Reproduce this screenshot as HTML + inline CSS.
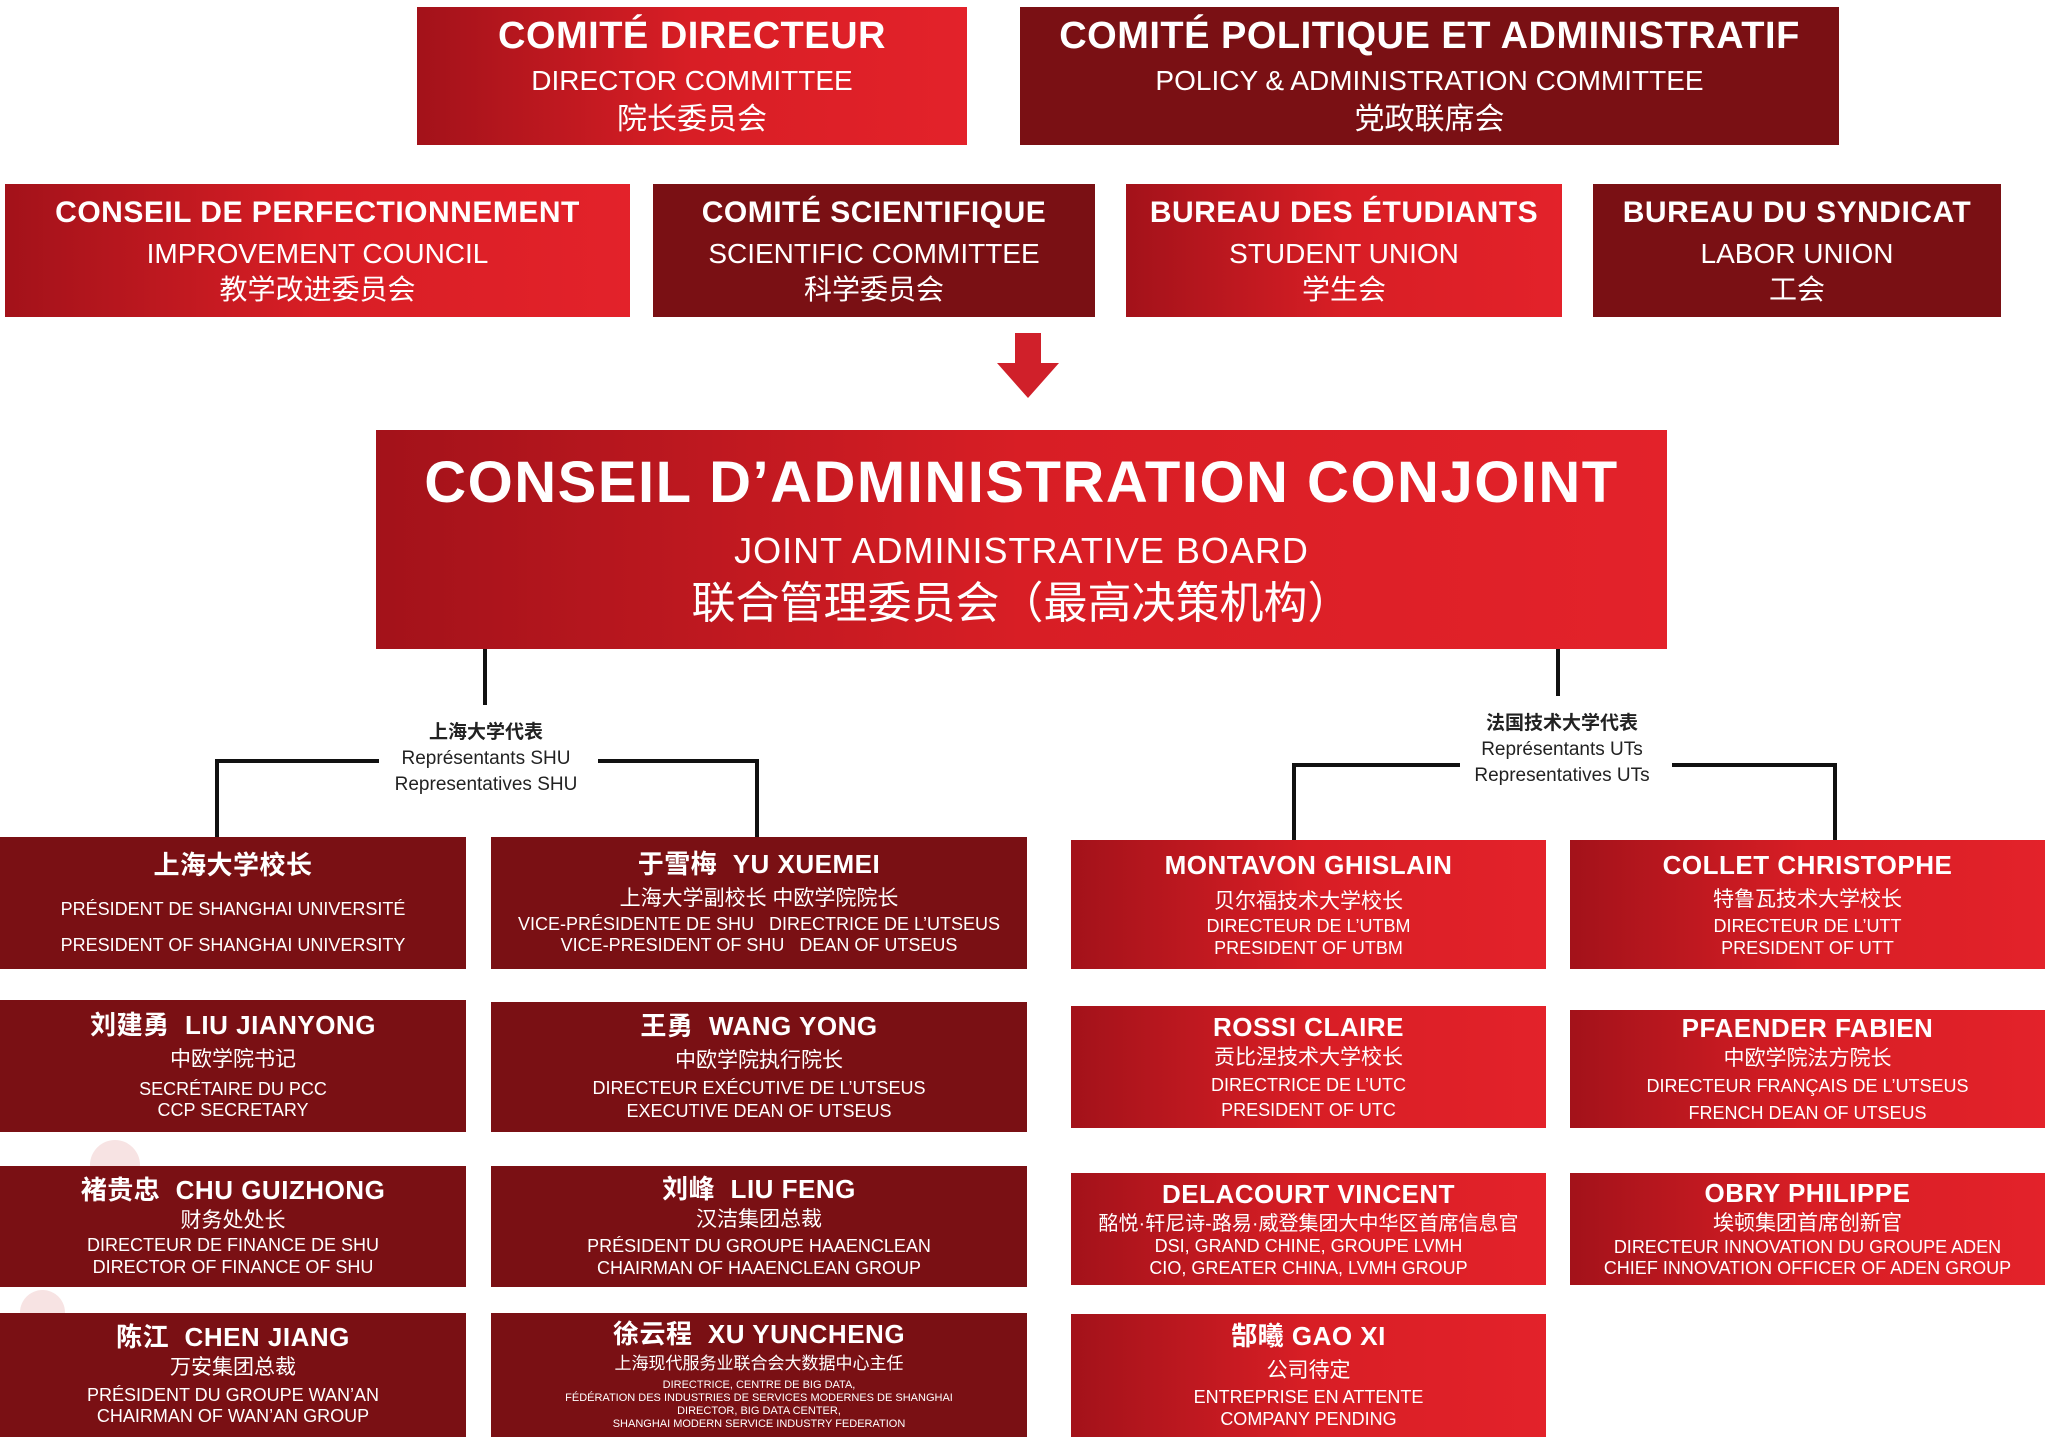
<!DOCTYPE html>
<html><head><meta charset="utf-8"><style>
*{margin:0;padding:0;box-sizing:border-box}
body{width:2048px;height:1442px;position:relative;background:#fff;overflow:hidden;font-family:"Liberation Sans","Noto Sans CJK SC",sans-serif;color:#fff}
.b{position:absolute;display:flex;flex-direction:column;align-items:center;justify-content:center;text-align:center;line-height:1.2}
.br{background:linear-gradient(90deg,#a3121a 0%,#d81e25 50%,#e3222a 100%)}
.dk{background:#7a1014}
.t{font-weight:bold;letter-spacing:0.5px}
.ln{position:absolute;background:#111}
.lab{position:absolute;color:#222;text-align:center;font-size:19px;line-height:26px}
.dot{position:absolute;border-radius:50%;background:#f7e3e3}
</style></head><body>
<div class="dot" style="left:-20px;top:1000px;width:60px;height:60px"></div>
<div class="dot" style="left:30px;top:1060px;width:50px;height:50px"></div>
<div class="dot" style="left:90px;top:1140px;width:50px;height:50px"></div>
<div class="dot" style="left:20px;top:1290px;width:45px;height:45px"></div>
<div style="position:absolute;left:0;top:1390px;width:22px;height:22px;background:#d81e25;border-radius:5px"></div>
<div style="position:absolute;left:16px;top:1412px;width:18px;height:20px;background:#d81e25;border-radius:5px"></div>

<div class="b br" style="left:417px;top:7px;width:550px;height:138px"><div class="t" style="font-size:38px">COMITÉ DIRECTEUR</div><div style="font-size:28px;margin-top:4px">DIRECTOR COMMITTEE</div><div style="font-size:30px;margin-top:4px">院长委员会</div></div>
<div class="b dk" style="left:1020px;top:7px;width:819px;height:138px"><div class="t" style="font-size:38px">COMITÉ POLITIQUE ET ADMINISTRATIF</div><div style="font-size:28px;margin-top:4px">POLICY &amp; ADMINISTRATION COMMITTEE</div><div style="font-size:30px;margin-top:4px">党政联席会</div></div>

<div class="b br" style="left:5px;top:184px;width:625px;height:133px"><div class="t" style="font-size:30px">CONSEIL DE PERFECTIONNEMENT</div><div style="font-size:28px;margin-top:6px">IMPROVEMENT COUNCIL</div><div style="font-size:28px;margin-top:2px">教学改进委员会</div></div>
<div class="b dk" style="left:653px;top:184px;width:442px;height:133px"><div class="t" style="font-size:30px">COMITÉ SCIENTIFIQUE</div><div style="font-size:28px;margin-top:6px">SCIENTIFIC COMMITTEE</div><div style="font-size:28px;margin-top:2px">科学委员会</div></div>
<div class="b br" style="left:1126px;top:184px;width:436px;height:133px"><div class="t" style="font-size:30px">BUREAU DES ÉTUDIANTS</div><div style="font-size:28px;margin-top:6px">STUDENT UNION</div><div style="font-size:28px;margin-top:2px">学生会</div></div>
<div class="b dk" style="left:1593px;top:184px;width:408px;height:133px"><div class="t" style="font-size:30px">BUREAU DU SYNDICAT</div><div style="font-size:28px;margin-top:6px">LABOR UNION</div><div style="font-size:28px;margin-top:2px">工会</div></div>

<svg style="position:absolute;left:995px;top:333px" width="66" height="66"><polygon points="20,0 46,0 46,30 64,30 33,65 2,30 20,30" fill="#d0202a"/></svg>

<div class="b br" style="left:376px;top:430px;width:1291px;height:219px"><div class="t" style="font-size:58px;letter-spacing:1.5px">CONSEIL D’ADMINISTRATION CONJOINT</div><div style="font-size:36px;margin-top:12px;letter-spacing:1px">JOINT ADMINISTRATIVE BOARD</div><div style="font-size:44px;margin-top:6px">联合管理委员会（最高决策机构）</div></div>

<div class="ln" style="left:483px;top:649px;width:4px;height:56px"></div>
<div class="lab" style="left:366px;top:720px;width:240px"><b>上海大学代表</b><br>Représentants SHU<br>Representatives SHU</div>
<div class="ln" style="left:215px;top:759px;width:164px;height:4px"></div>
<div class="ln" style="left:598px;top:759px;width:161px;height:4px"></div>
<div class="ln" style="left:215px;top:759px;width:4px;height:78px"></div>
<div class="ln" style="left:755px;top:759px;width:4px;height:78px"></div>

<div class="ln" style="left:1556px;top:649px;width:4px;height:47px"></div>
<div class="lab" style="left:1442px;top:711px;width:240px"><b>法国技术大学代表</b><br>Représentants UTs<br>Representatives UTs</div>
<div class="ln" style="left:1292px;top:763px;width:168px;height:4px"></div>
<div class="ln" style="left:1672px;top:763px;width:165px;height:4px"></div>
<div class="ln" style="left:1292px;top:763px;width:4px;height:77px"></div>
<div class="ln" style="left:1833px;top:763px;width:4px;height:77px"></div>

<!-- left column -->
<div class="b dk" style="left:0;top:837px;width:466px;height:132px"><div class="t" style="font-size:26px">上海大学校长</div><div style="font-size:18px;margin-top:18px">PRÉSIDENT DE SHANGHAI UNIVERSITÉ</div><div style="font-size:18px;margin-top:14px">PRESIDENT OF SHANGHAI UNIVERSITY</div></div>
<div class="b dk" style="left:0;top:1000px;width:466px;height:132px"><div class="t" style="font-size:26px">刘建勇&nbsp; LIU JIANYONG</div><div style="font-size:21px;margin-top:6px">中欧学院书记</div><div style="font-size:18px;margin-top:6px">SECRÉTAIRE DU PCC</div><div style="font-size:18px">CCP SECRETARY</div></div>
<div class="b dk" style="left:0;top:1166px;width:466px;height:121px"><div class="t" style="font-size:26px">褚贵忠&nbsp; CHU GUIZHONG</div><div style="font-size:21px;margin-top:2px">财务处处长</div><div style="font-size:18px;margin-top:2px">DIRECTEUR DE FINANCE DE SHU</div><div style="font-size:18px">DIRECTOR OF FINANCE OF SHU</div></div>
<div class="b dk" style="left:0;top:1313px;width:466px;height:124px"><div class="t" style="font-size:26px">陈江&nbsp; CHEN JIANG</div><div style="font-size:21px;margin-top:2px">万安集团总裁</div><div style="font-size:18px;margin-top:4px">PRÉSIDENT DU GROUPE WAN’AN</div><div style="font-size:18px">CHAIRMAN OF WAN’AN GROUP</div></div>

<div class="b dk" style="left:491px;top:837px;width:536px;height:132px"><div class="t" style="font-size:26px">于雪梅&nbsp; YU XUEMEI</div><div style="font-size:21px;margin-top:6px">上海大学副校长 中欧学院院长</div><div style="font-size:18px;margin-top:2px">VICE-PRÉSIDENTE DE SHU&nbsp;&nbsp; DIRECTRICE DE L’UTSEUS</div><div style="font-size:18px">VICE-PRESIDENT OF SHU&nbsp;&nbsp; DEAN OF UTSEUS</div></div>
<div class="b dk" style="left:491px;top:1002px;width:536px;height:130px"><div class="t" style="font-size:26px">王勇&nbsp; WANG YONG</div><div style="font-size:21px;margin-top:6px">中欧学院执行院长</div><div style="font-size:18px;margin-top:4px">DIRECTEUR EXÉCUTIVE DE L’UTSEUS</div><div style="font-size:18px;margin-top:2px">EXECUTIVE DEAN OF UTSEUS</div></div>
<div class="b dk" style="left:491px;top:1166px;width:536px;height:121px"><div class="t" style="font-size:26px">刘峰&nbsp; LIU FENG</div><div style="font-size:21px;margin-top:2px">汉洁集团总裁</div><div style="font-size:18px;margin-top:4px">PRÉSIDENT DU GROUPE HAAENCLEAN</div><div style="font-size:18px">CHAIRMAN OF HAAENCLEAN GROUP</div></div>
<div class="b dk" style="left:491px;top:1313px;width:536px;height:124px"><div class="t" style="font-size:26px">徐云程&nbsp; XU YUNCHENG</div><div style="font-size:17px;margin-top:4px">上海现代服务业联合会大数据中心主任</div><div style="font-size:11px;margin-top:4px;line-height:13px">DIRECTRICE, CENTRE DE BIG DATA,<br>FÉDÉRATION DES INDUSTRIES DE SERVICES MODERNES DE SHANGHAI<br>DIRECTOR, BIG DATA CENTER,<br>SHANGHAI MODERN SERVICE INDUSTRY FEDERATION</div></div>

<!-- right columns -->
<div class="b br" style="left:1071px;top:840px;width:475px;height:129px"><div class="t" style="font-size:26px">MONTAVON GHISLAIN</div><div style="font-size:21px;margin-top:8px">贝尔福技术大学校长</div><div style="font-size:18px;margin-top:2px">DIRECTEUR DE L’UTBM</div><div style="font-size:18px">PRESIDENT OF UTBM</div></div>
<div class="b br" style="left:1071px;top:1006px;width:475px;height:122px"><div class="t" style="font-size:26px">ROSSI CLAIRE</div><div style="font-size:21px;margin-top:2px">贡比涅技术大学校长</div><div style="font-size:18px;margin-top:4px">DIRECTRICE DE L’UTC</div><div style="font-size:18px;margin-top:4px">PRESIDENT OF UTC</div></div>
<div class="b br" style="left:1071px;top:1173px;width:475px;height:112px"><div class="t" style="font-size:26px">DELACOURT VINCENT</div><div style="font-size:20px;margin-top:2px;white-space:nowrap">酩悦·轩尼诗-路易·威登集团大中华区首席信息官</div><div style="font-size:18px">DSI, GRAND CHINE, GROUPE LVMH</div><div style="font-size:18px">CIO, GREATER CHINA, LVMH GROUP</div></div>
<div class="b br" style="left:1071px;top:1314px;width:475px;height:123px"><div class="t" style="font-size:26px">郜曦 GAO XI</div><div style="font-size:21px;margin-top:6px">公司待定</div><div style="font-size:18px;margin-top:4px">ENTREPRISE EN ATTENTE</div><div style="font-size:18px">COMPANY PENDING</div></div>

<div class="b br" style="left:1570px;top:840px;width:475px;height:129px"><div class="t" style="font-size:26px">COLLET CHRISTOPHE</div><div style="font-size:21px;margin-top:6px">特鲁瓦技术大学校长</div><div style="font-size:18px;margin-top:4px">DIRECTEUR DE L’UTT</div><div style="font-size:18px">PRESIDENT OF UTT</div></div>
<div class="b br" style="left:1570px;top:1010px;width:475px;height:118px"><div class="t" style="font-size:26px">PFAENDER FABIEN</div><div style="font-size:21px;margin-top:2px">中欧学院法方院长</div><div style="font-size:18px;margin-top:4px">DIRECTEUR FRANÇAIS DE L’UTSEUS</div><div style="font-size:18px;margin-top:6px">FRENCH DEAN OF UTSEUS</div></div>
<div class="b br" style="left:1570px;top:1173px;width:475px;height:112px"><div class="t" style="font-size:26px">OBRY PHILIPPE</div><div style="font-size:21px;margin-top:2px">埃顿集团首席创新官</div><div style="font-size:18px">DIRECTEUR INNOVATION DU GROUPE ADEN</div><div style="font-size:18px">CHIEF INNOVATION OFFICER OF ADEN GROUP</div></div>
</body></html>
